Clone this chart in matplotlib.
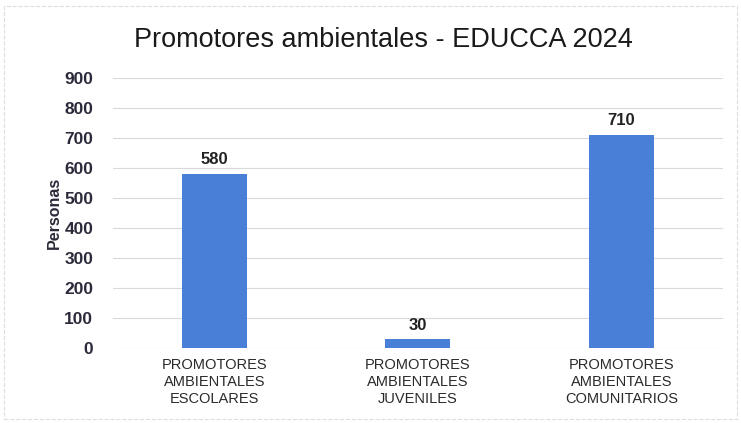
import matplotlib
matplotlib.use("Agg")
from matplotlib import pyplot as plt

categorias = ["PROMOTORES\nAMBIENTALES\nESCOLARES",
              "PROMOTORES\nAMBIENTALES\nJUVENILES",
              "PROMOTORES\nAMBIENTALES\nCOMUNITARIOS"]
personas = [580, 30, 710]
ticks_y = [0, 100, 200, 300, 400, 500, 600, 700, 800, 900]

plt.rcParams['font.family'] = ['Liberation Sans', 'DejaVu Sans']

fig = plt.figure(figsize=(7.41, 4.23), dpi=100)
ax = fig.add_axes([0.152, 0.177, 0.824, 0.639])

x = range(len(categorias))
bars = ax.bar(x, personas, width=0.32, color="#4a7fd8", zorder=3)
for b, v in zip(bars, personas):
    ax.text(b.get_x() + b.get_width() / 2, v + 22, str(v), ha="center", va="bottom",
            fontsize=12, fontweight="bold", color="#222222")

ax.set_xlim(-0.5, 2.5)
ax.set_ylim(0, 900)
ax.set_yticks(ticks_y)
ax.set_yticklabels([str(t) for t in ticks_y], fontsize=12.5, fontweight="bold", color="#2a2a3a")
ax.set_xticks(list(x))
ax.set_xticklabels(categorias, fontsize=10.5, color="#2a2a2a", linespacing=1.3)
ax.tick_params(axis="y", length=0, pad=14)
ax.tick_params(axis="x", length=0, pad=7)
ax.grid(axis="y", color="#d9d9d9", linewidth=0.8, zorder=0)
for s in ax.spines.values():
    s.set_visible(False)

ax.set_ylabel("Personas", fontsize=11.5, fontweight="bold", color="#2a2a3a", labelpad=2)
fig.text(0.517, 0.905, "Promotores ambientales - EDUCCA 2024", ha="center", va="center",
         fontsize=19.5, color="#1a1a1a")

fig.patches.append(plt.Rectangle((0.005, 0.01), 0.99, 0.975, transform=fig.transFigure,
                                 fill=False, edgecolor="#dddddd", linewidth=0.8, linestyle="--"))

fig.savefig("out.png", dpi=100)
